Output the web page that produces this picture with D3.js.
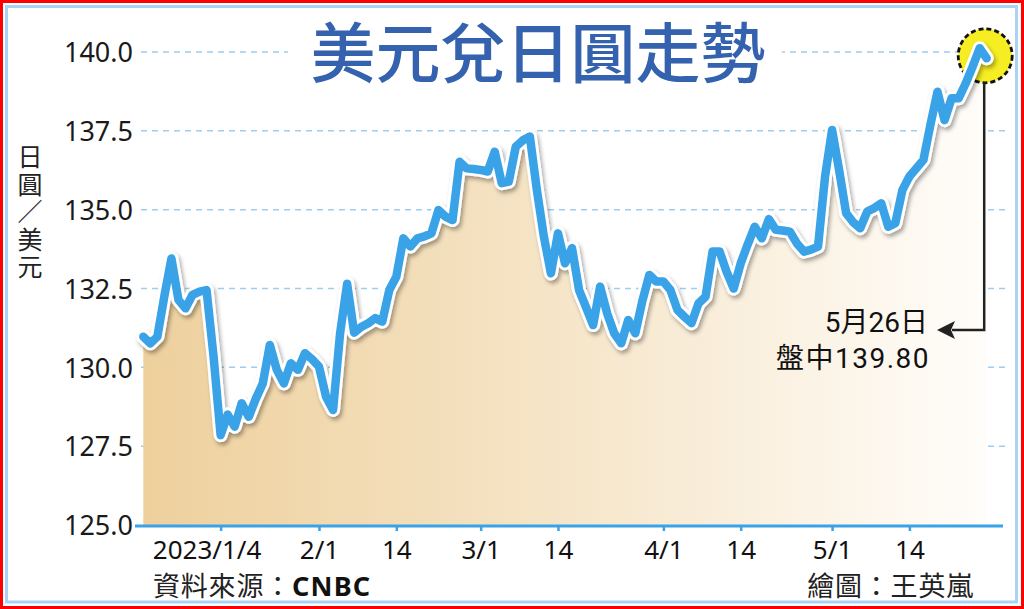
<!DOCTYPE html>
<html><head><meta charset="utf-8">
<script src="https://cdn.jsdelivr.net/npm/d3@7"></script>
<style>html,body{margin:0;padding:0;background:#fff;} svg{display:block;}</style>
</head><body>
<svg id="chart" width="1024" height="609"></svg>
<script>
// ---- data ----
const values = [
  130.97,130.76,130.97,132.26,133.45,132.14,131.87,132.30,132.40,132.45,
  130.34,127.85,128.50,128.12,128.86,128.43,129.00,129.49,130.71,129.92,
  129.49,130.13,129.92,130.45,130.26,130.02,129.07,128.65,131.08,132.65,
  131.10,131.28,131.40,131.56,131.45,132.45,132.87,134.09,133.83,134.09,
  134.15,134.25,134.99,134.78,134.67,136.52,136.31,136.29,136.26,136.21,
  136.84,135.84,135.89,137.00,137.20,137.32,135.62,134.14,132.98,134.25,
  133.30,133.78,132.45,131.90,131.34,132.56,131.71,131.08,130.76,131.50,
  131.08,132.10,132.93,132.72,132.72,132.45,131.82,131.60,131.40,132.03,
  132.24,133.67,133.67,133.03,132.50,133.30,133.90,134.46,134.09,134.70,
  134.36,134.34,134.30,133.93,133.67,133.73,133.83,136.05,137.53,136.26,
  134.89,134.60,134.41,134.94,135.05,135.20,134.46,134.57,135.62,136.05,
  136.31,136.58,137.70,138.74,137.84,138.53,138.53,139.00,139.54,140.12,
  139.80
];
const yTicks = [125, 127.5, 130, 132.5, 135, 137.5, 140];
const xTickIndex = [11, 25, 36, 48, 59, 74, 85, 98, 109];
const xTickLabels = ["2023/1/4", "2/1", "14", "3/1", "14", "4/1", "14", "5/1", "14"];
const titleText = "美元兌日圓走勢";
const yTitleText = "日圓／美元";
const noteDate = "5月26日";
const noteValue = "盤中139.80";
const sourceLabel = "資料來源：";
const sourceName = "CNBC";
const credit = "繪圖：王英嵐";

// ---- layout ----
const svg = d3.select("#chart");
const W = 1024, H = 609;
const x = d3.scaleLinear().domain([0, values.length - 1]).range([143.3, 986.7]);
const y = d3.scaleLinear().domain([125, 140]).range([525, 52]);
const numFont = "'Noto Sans', 'Noto Sans CJK TC', sans-serif";
const cjkFont = "'Noto Sans CJK TC', 'Noto Sans', sans-serif";

const defs = svg.append("defs");
const grad = defs.append("linearGradient").attr("id", "areaGrad")
  .attr("gradientUnits", "userSpaceOnUse")
  .attr("x1", x(0)).attr("x2", x(values.length - 1)).attr("y1", 0).attr("y2", 0);
grad.append("stop").attr("offset", "0%").attr("stop-color", "#eed09d");
grad.append("stop").attr("offset", "45%").attr("stop-color", "#f5e3c4");
grad.append("stop").attr("offset", "100%").attr("stop-color", "#fffdfa");

const shadow = defs.append("filter").attr("id", "shadow")
  .attr("x", "-5%").attr("y", "-5%").attr("width", "110%").attr("height", "115%");
shadow.append("feDropShadow").attr("dx", 2).attr("dy", 3).attr("stdDeviation", 2)
  .attr("flood-color", "#000").attr("flood-opacity", 0.35);

// background + borders
svg.append("rect").attr("width", W).attr("height", H).attr("fill", "#fff");
svg.append("rect").attr("x", 1.5).attr("y", 1.5).attr("width", W - 3).attr("height", H - 3)
  .attr("fill", "none").attr("stroke", "#ff0000").attr("stroke-width", 3);
svg.append("rect").attr("x", 6.5).attr("y", 6.5).attr("width", 1010).attr("height", 595.5)
  .attr("fill", "none").attr("stroke", "#a9d2f3").attr("stroke-width", 3);

// gridlines
svg.append("g").selectAll("line").data(yTicks.filter(d => d > 125)).join("line")
  .attr("x1", 141).attr("x2", 1007)
  .attr("y1", d => y(d)).attr("y2", d => y(d))
  .attr("stroke", "#9fcdf0").attr("stroke-width", 1.5).attr("stroke-dasharray", "6,5");

// area
const area = d3.area().x((d, i) => x(i)).y0(y(125)).y1(d => y(d)).curve(d3.curveLinear);
svg.append("path").datum(values).attr("d", area).attr("fill", "url(#areaGrad)");

// title
svg.append("rect").attr("x", 288).attr("y", 14).attr("width", 494).attr("height", 76).attr("fill", "#fff");
svg.append("text").attr("x", 538).attr("y", 77).attr("text-anchor", "middle")
  .attr("font-family", cjkFont).attr("font-weight", 500).attr("font-size", 65)
  .attr("fill", "#3462ae").text(titleText);

// highlight circle at last point
const last = values.length - 1;
svg.append("circle").attr("cx", x(last) - 1.5).attr("cy", y(values[last]) - 2.5).attr("r", 27)
  .attr("fill", "#f6ed22").attr("stroke", "#111").attr("stroke-width", 2.8)
  .attr("stroke-dasharray", "5,3");

// line with halo and shadow
const line = d3.line().x((d, i) => x(i)).y(d => y(d));
svg.append("path").datum(values).attr("d", line).attr("fill", "none")
  .attr("stroke", "#fff").attr("stroke-width", 14).attr("stroke-linejoin", "round")
  .attr("stroke-linecap", "round").attr("filter", "url(#shadow)");
svg.append("path").datum(values).attr("d", line).attr("fill", "none")
  .attr("stroke", "#3aa2e6").attr("stroke-width", 8.5).attr("stroke-linejoin", "round")
  .attr("stroke-linecap", "round");

// y axis labels
const yAxis = svg.append("g").attr("transform", "translate(141,0)")
  .call(d3.axisLeft(y).tickValues(yTicks).tickFormat(d3.format(".1f")).tickSize(0).tickPadding(8));
yAxis.select(".domain").remove();
yAxis.selectAll("text").attr("font-family", numFont).attr("font-size", 27).attr("fill", "#1a1a1a")
  .attr("dy", "0.36em");

// x axis
svg.append("line").attr("x1", 135).attr("x2", 1003).attr("y1", 526).attr("y2", 526)
  .attr("stroke", "#3aa2e6").attr("stroke-width", 3);
const xAxis = svg.append("g").attr("transform", "translate(0,526)")
  .call(d3.axisBottom(x).tickValues(xTickIndex).tickFormat((d, i) => xTickLabels[i])
    .tickSize(5).tickPadding(10));
xAxis.select(".domain").remove();
xAxis.selectAll(".tick line").attr("stroke", "#3aa2e6").attr("stroke-width", 2.5);
xAxis.selectAll("text").attr("font-family", numFont).attr("font-size", 26).attr("fill", "#111")
  .attr("dx", (d, i) => i === 0 ? -14 : 0);

// y title (vertical writing)
svg.append("text").attr("x", 30).attr("y", 144)
  .attr("writing-mode", "vertical-rl")
  .style("text-orientation", "upright")
  .attr("letter-spacing", 2.5)
  .attr("font-family", cjkFont).attr("font-size", 25).attr("fill", "#222")
  .text(yTitleText);

// annotation connector
const cx = x(last) - 2.5;
svg.append("path")
  .attr("d", `M${cx},${y(values[last]) + 24} V330 H952`)
  .attr("fill", "none").attr("stroke", "#222").attr("stroke-width", 2.5);
svg.append("path").attr("d", "M937,330 L955,321 L951,330 L955,339 Z").attr("fill", "#222");

svg.append("text").attr("x", 928).attr("y", 332).attr("text-anchor", "end")
  .attr("font-family", "Roboto, 'Noto Sans CJK TC', sans-serif").attr("font-size", 28).attr("fill", "#111")
  .text(noteDate);
svg.append("text").attr("x", 930).attr("y", 368).attr("text-anchor", "end")
  .attr("font-family", "Roboto, 'Noto Sans CJK TC', sans-serif").attr("font-size", 28).attr("fill", "#111")
  .attr("letter-spacing", 1.5)
  .text(noteValue);

// source / credit
const src = svg.append("text").attr("x", 153).attr("y", 596)
  .attr("font-family", cjkFont).attr("font-size", 27).attr("fill", "#222");
src.append("tspan").attr("letter-spacing", 0.8).text(sourceLabel);
src.append("tspan").attr("font-family", numFont).attr("font-weight", 700).attr("fill", "#111")
  .attr("letter-spacing", 1.2).text(sourceName);
svg.append("text").attr("x", 974).attr("y", 596).attr("text-anchor", "end")
  .attr("font-family", cjkFont).attr("font-size", 27).attr("letter-spacing", 0.8)
  .attr("fill", "#222").text(credit);
</script>
</body></html>
